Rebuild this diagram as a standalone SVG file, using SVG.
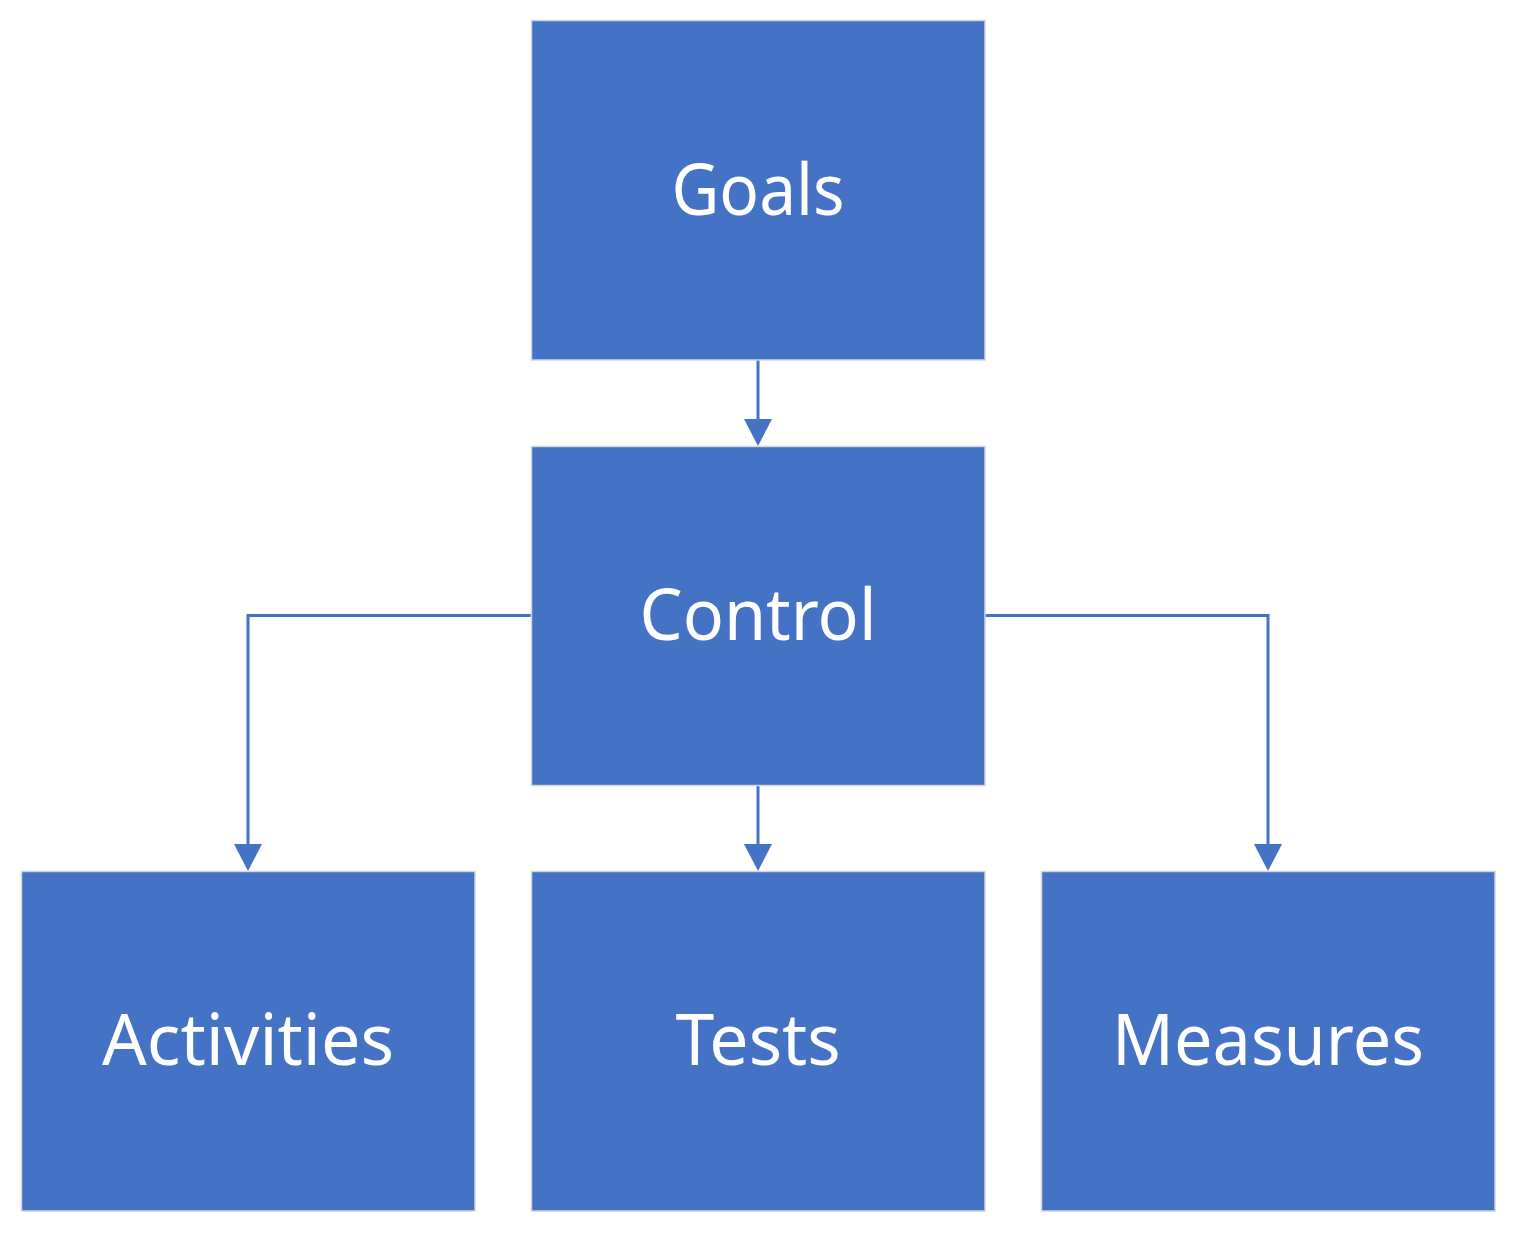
<svg xmlns="http://www.w3.org/2000/svg" width="1517" height="1233" viewBox="0 0 1517 1233">
<style>
.box{fill:#4472C4;stroke:#cfd4de;stroke-width:1.5}
.lbl{fill:#ffffff;font-family:"Noto Sans","Open Sans","Liberation Sans",sans-serif;font-size:72px;text-anchor:middle}
.conn{fill:none;stroke:#4472C4;stroke-width:3}
</style>
<defs>
<marker id="arr" markerUnits="userSpaceOnUse" markerWidth="28" markerHeight="28" refX="0" refY="14" orient="auto" viewBox="0 0 28 28">
<path d="M0,0 L27,14 L0,28 z" fill="#4472C4"/>
</marker>
</defs>
<rect width="1517" height="1233" fill="#ffffff"/>
<g id="connectors">
<path class="conn" d="M758,360 V419" marker-end="url(#arr)"/>
<path class="conn" d="M758,785 V844" marker-end="url(#arr)"/>
<path class="conn" d="M531,615.5 H248 V844" marker-end="url(#arr)"/>
<path class="conn" d="M985,615.5 H1268 V844" marker-end="url(#arr)"/>
</g>
<g id="goals">
<rect class="box" x="531.5" y="20.5" width="453.5" height="339.5"/>
<text class="lbl" x="758" y="215" textLength="173" lengthAdjust="spacingAndGlyphs">Goals</text>
</g>
<g id="control">
<rect class="box" x="531.5" y="446.5" width="453.5" height="339"/>
<text class="lbl" x="758" y="640" textLength="237" lengthAdjust="spacingAndGlyphs">Control</text>
</g>
<g id="activities">
<rect class="box" x="21.5" y="871.5" width="453.5" height="339.5"/>
<text class="lbl" x="248" y="1065" textLength="292" lengthAdjust="spacingAndGlyphs">Activities</text>
</g>
<g id="tests">
<rect class="box" x="531.5" y="871.5" width="453.5" height="339.5"/>
<text class="lbl" x="758" y="1065" textLength="165" lengthAdjust="spacingAndGlyphs">Tests</text>
</g>
<g id="measures">
<rect class="box" x="1041.5" y="871.5" width="453.5" height="339.5"/>
<text class="lbl" x="1268" y="1065" textLength="312" lengthAdjust="spacingAndGlyphs">Measures</text>
</g>
</svg>
